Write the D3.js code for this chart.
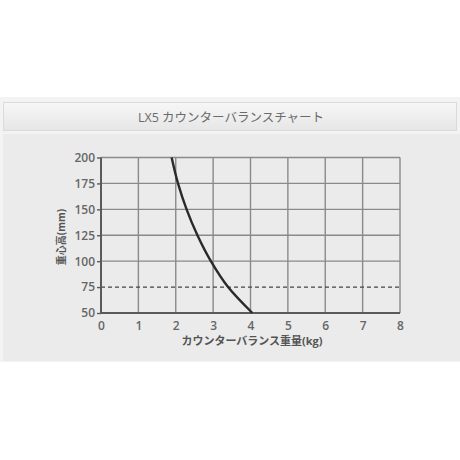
<!DOCTYPE html>
<html><head><meta charset="utf-8">
<script src="https://cdn.jsdelivr.net/npm/d3@7"></script>
<style>
html,body{margin:0;padding:0;background:#fff;}
svg{display:block;font-family:"Open Sans","Noto Sans CJK JP",sans-serif;}
</style></head>
<body>
<svg id="c" width="460" height="460"></svg>
<script>
const title = "LX5 カウンターバランスチャート";
const xLabel = "カウンターバランス重量(kg)";
const yLabel = "重心高(mm)";
const xTicks = [0,1,2,3,4,5,6,7,8];
const yTicks = [50,75,100,125,150,175,200];
const dashedLevel = 75;
const weightKg = [1.89, 2.06, 2.29, 2.58, 2.94, 3.40, 4.05];
const heightMm = [200, 175, 150, 125, 100, 75, 50];

const svg = d3.select("#c");
const defs = svg.append("defs");
const g1 = defs.append("linearGradient").attr("id","tb").attr("x1",0).attr("y1",0).attr("x2",0).attr("y2",1);
g1.append("stop").attr("offset","0%").attr("stop-color","#f7f7f7");
g1.append("stop").attr("offset","100%").attr("stop-color","#e6e6e6");

// outer panel
svg.append("rect").attr("x",0).attr("y",97).attr("width",460).attr("height",265).attr("fill","#f3f3f3");
svg.append("rect").attr("x",3.5).attr("y",102.5).attr("width",453).attr("height",28).attr("fill","url(#tb)").attr("stroke","#dadada");
svg.append("rect").attr("x",3).attr("y",134).attr("width",457).attr("height",227).attr("fill","#ebebeb");
svg.append("text").attr("x",231).attr("y",122).attr("text-anchor","middle").attr("font-size",12.5)
  .attr("fill","#6a6a6a").text(title);

const x = d3.scaleLinear().domain([0,8]).range([101,400]);
const y = d3.scaleLinear().domain([50,200]).range([313,157.5]);

// grid
svg.append("g").selectAll("line").data(xTicks.filter(d=>d>0)).join("line")
  .attr("x1",d=>x(d)).attr("x2",d=>x(d)).attr("y1",y(200)).attr("y2",y(50))
  .attr("stroke","#8a8a8a").attr("stroke-width",1.4);
svg.append("g").selectAll("line").data(yTicks.filter(d=>d>50 && d!==dashedLevel)).join("line")
  .attr("x1",x(0)).attr("x2",x(8)).attr("y1",d=>y(d)).attr("y2",d=>y(d))
  .attr("stroke","#8a8a8a").attr("stroke-width",1.4);
svg.append("line").attr("x1",x(0)).attr("x2",x(8)).attr("y1",y(dashedLevel)).attr("y2",y(dashedLevel))
  .attr("stroke","#444").attr("stroke-width",1.2).attr("stroke-dasharray","4,3");

// axes
const xAxis = d3.axisBottom(x).tickValues(xTicks).tickSize(0).tickPadding(8);
const yAxis = d3.axisLeft(y).tickValues(yTicks).tickSize(4).tickPadding(2);
const gx = svg.append("g").attr("transform",`translate(0,${y(50)})`).call(xAxis);
const gy = svg.append("g").attr("transform",`translate(${x(0)},0)`).call(yAxis);
[gx,gy].forEach(g=>{
  g.select(".domain").attr("stroke","#5a5a5a").attr("stroke-width",2);
  g.selectAll(".tick line").attr("stroke","#5a5a5a").attr("stroke-width",1.4);
  g.selectAll("text").attr("font-size",12).attr("fill","#666").attr("font-weight",600)
   .attr("font-family","'Open Sans',sans-serif");
});
gx.select(".domain").attr("d",`M${x(0)},0H${x(8)}`);
gy.select(".domain").attr("d",`M0,${y(200)}V${y(50)}`);

// curve
const pts = weightKg.map((w,i)=>[w,heightMm[i]]);
svg.append("path").datum(pts)
  .attr("d",d3.line().x(d=>x(d[0])).y(d=>y(d[1])).curve(d3.curveCatmullRom.alpha(0.5)))
  .attr("fill","none").attr("stroke","#2a2a2a").attr("stroke-width",2.4);

// labels
svg.append("text").attr("x",252).attr("y",345).attr("text-anchor","middle").attr("font-size",11)
  .attr("font-weight",700).attr("fill","#555").text(xLabel);
svg.append("text").attr("transform",`translate(65,237) rotate(-90)`).attr("text-anchor","middle")
  .attr("font-size",10).attr("font-weight",700).attr("fill","#555").text(yLabel);
</script>
</body></html>
